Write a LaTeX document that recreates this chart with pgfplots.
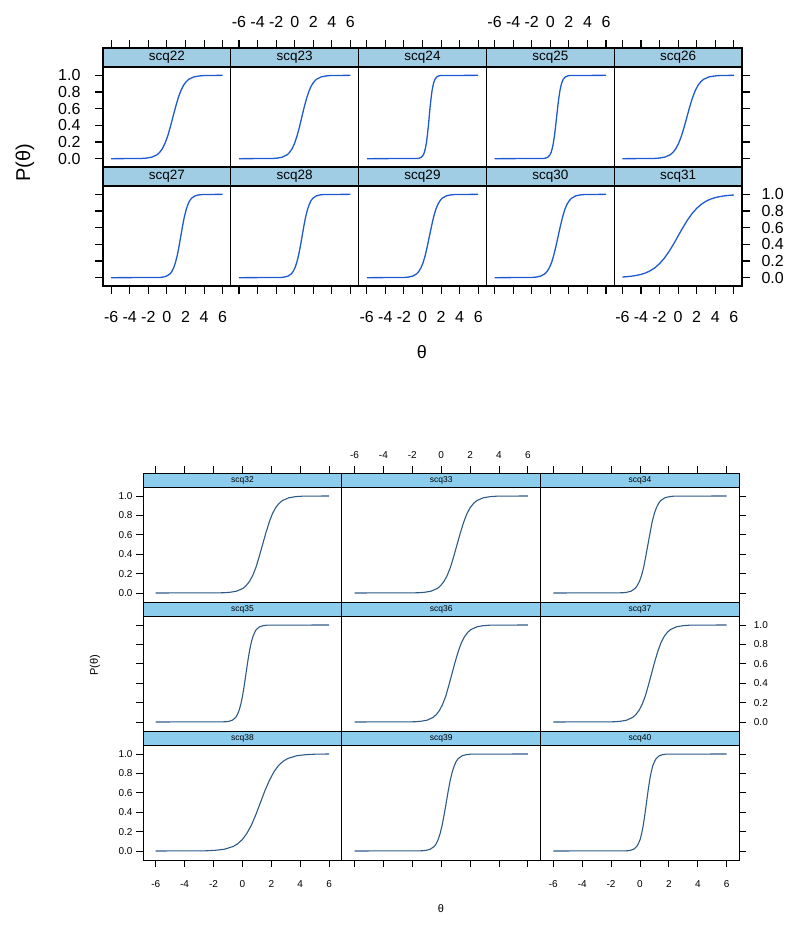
\documentclass[border=0pt]{standalone}
\usepackage{pgfplots}
\pgfplotsset{compat=1.18}
\usepackage{fontspec}
\setmainfont{Liberation Sans}
\definecolor{topstrip}{RGB}{160,205,228}
\definecolor{botstrip}{RGB}{140,205,238}
\definecolor{topcurve}{RGB}{30,90,210}
\definecolor{botcurve}{RGB}{45,90,135}
\pgfplotsset{
  baseP/.style={scale only axis, anchor=north west, xmin=-6.88, xmax=6.88,
    axis on top, tick align=outside,
    xtick={-6,-4,-2,0,2,4,6}, ytick={0,0.2,0.4,0.6,0.8,1},
    xticklabels={-6,-4,-2,0,2,4,6}, yticklabels={0.0,0.2,0.4,0.6,0.8,1.0}},
  topP/.style={baseP, width=127.8pt, height=119pt, ymin=-0.1, ymax=1.328,
    major tick length=8pt, axis line style={line width=1.1pt},
    tick style={line width=1.1pt, black},
    tick label style={font=\fontsize{16}{18}\selectfont}},
  botP/.style={baseP, width=198.8pt, height=129pt, ymin=-0.093, ymax=1.237,
    major tick length=7pt, axis line style={line width=0.8pt},
    tick style={line width=0.8pt, black},
    tick label style={font=\fontsize{10}{12}\selectfont}},
  topL/.style={color=topcurve, line width=1.3pt, no markers, line join=round},
  botL/.style={color=botcurve, line width=1.1pt, no markers, line join=round},
  TU/.style={xtick pos=right, xticklabel pos=right, xticklabel style={yshift=9pt}},
  TD/.style={xtick pos=left, xticklabel pos=left, xticklabel style={yshift=-14pt}},
  TL/.style={ytick pos=left, yticklabel pos=left, yticklabel style={xshift=-11pt}},
  TR/.style={ytick pos=right, yticklabel pos=right, yticklabel style={xshift=8pt}},
  BU/.style={xtick pos=right, xticklabel pos=right, xticklabel style={yshift=4pt}},
  BD/.style={xtick pos=left, xticklabel pos=left, xticklabel style={yshift=-10pt}},
  BL/.style={ytick pos=left, yticklabel pos=left},
  BR/.style={ytick pos=right, yticklabel pos=right, yticklabel style={xshift=4pt}},
}
\newcommand{\tpanel}[5]{%
\begin{axis}[topP, at={(#1pt,-#2pt)}, #3]
\addplot[topL] coordinates {#5};
\fill[topstrip] (rel axis cs:0,0.8403) rectangle (rel axis cs:1,1);
\draw[line width=1.1pt] (rel axis cs:0,0.8403) -- (rel axis cs:1,0.8403);
\node[font=\fontsize{13.5}{15}\selectfont] at (rel axis cs:0.5,0.9202) {#4};
\end{axis}}
\newcommand{\bpanel}[5]{%
\begin{axis}[botP, at={(#1pt,-#2pt)}, #3]
\addplot[botL] coordinates {#5};
\fill[botstrip] (rel axis cs:0,0.8915) rectangle (rel axis cs:1,1);
\draw[line width=0.8pt] (rel axis cs:0,0.8915) -- (rel axis cs:1,0.8915);
\node[font=\fontsize{8.5}{10}\selectfont] at (rel axis cs:0.5,0.9457) {#4};
\end{axis}}
\begin{document}
\begin{tikzpicture}
\useasboundingbox (0,0) rectangle (800pt,-930pt);
% ---------------- top figure ----------------
\tpanel{103}{48}{TU, xticklabels={}, TL}{scq22}
{(-6,0)(-2.78,0.002)(-2.21,0.007)(-1.64,0.018)(-1.06,0.047)(-0.78,0.076)(-0.49,0.119)(-0.21,0.182)(0.08,0.269)(0.36,0.378)(0.65,0.5)(0.94,0.622)(1.22,0.731)(1.51,0.818)(1.79,0.881)(2.08,0.924)(2.36,0.953)(2.93,0.982)(3.51,0.993)(4.08,0.998)(6,1)}
\tpanel{230.8}{48}{TU, ytick=\empty}{scq23}
{(-6,0)(-2.39,0.002)(-1.86,0.007)(-1.33,0.018)(-0.81,0.047)(-0.55,0.076)(-0.28,0.119)(-0.02,0.182)(0.24,0.269)(0.51,0.378)(0.77,0.5)(1.03,0.622)(1.30,0.731)(1.56,0.818)(1.82,0.881)(2.09,0.924)(2.35,0.953)(2.87,0.982)(3.40,0.993)(3.93,0.998)(6,1)}
\tpanel{358.6}{48}{TU, xticklabels={}, ytick=\empty}{scq24}
{(-6,0)(-0.53,0.002)(-0.32,0.007)(-0.11,0.018)(0.10,0.047)(0.20,0.076)(0.30,0.119)(0.41,0.182)(0.51,0.269)(0.62,0.378)(0.72,0.5)(0.82,0.622)(0.93,0.731)(1.03,0.818)(1.14,0.881)(1.24,0.924)(1.34,0.953)(1.55,0.982)(1.76,0.993)(1.97,0.998)(6,1)}
\tpanel{486.4}{48}{TU, ytick=\empty}{scq25}
{(-6,0)(-0.75,0.002)(-0.51,0.007)(-0.27,0.018)(-0.03,0.047)(0.09,0.076)(0.20,0.119)(0.32,0.182)(0.44,0.269)(0.56,0.378)(0.68,0.5)(0.80,0.622)(0.92,0.731)(1.04,0.818)(1.16,0.881)(1.28,0.924)(1.39,0.953)(1.63,0.982)(1.87,0.993)(2.11,0.998)(6,1)}
\tpanel{614.2}{48}{TU, xticklabels={}, TR, yticklabels={}}{scq26}
{(-6,0)(-2.64,0.002)(-2.05,0.007)(-1.45,0.018)(-0.85,0.047)(-0.55,0.076)(-0.25,0.119)(0.05,0.182)(0.35,0.269)(0.65,0.378)(0.95,0.5)(1.25,0.622)(1.55,0.731)(1.85,0.818)(2.15,0.881)(2.45,0.924)(2.75,0.953)(3.35,0.982)(3.95,0.993)(4.54,0.998)(6,1)}
\tpanel{103}{167}{TD, TL, yticklabels={}}{scq27}
{(-6,0)(-0.81,0.002)(-0.42,0.007)(-0.04,0.018)(0.35,0.047)(0.54,0.076)(0.73,0.119)(0.92,0.182)(1.12,0.269)(1.31,0.378)(1.50,0.5)(1.69,0.622)(1.88,0.731)(2.08,0.818)(2.27,0.881)(2.46,0.924)(2.65,0.953)(3.04,0.982)(3.42,0.993)(3.81,0.998)(6,1)}
\tpanel{230.8}{167}{TD, xticklabels={}, ytick=\empty}{scq28}
{(-6,0)(-1.51,0.002)(-1.12,0.007)(-0.74,0.018)(-0.35,0.047)(-0.16,0.076)(0.03,0.119)(0.22,0.182)(0.42,0.269)(0.61,0.378)(0.80,0.5)(0.99,0.622)(1.18,0.731)(1.38,0.818)(1.57,0.881)(1.76,0.924)(1.95,0.953)(2.34,0.982)(2.72,0.993)(3.11,0.998)(6,1)}
\tpanel{358.6}{167}{TD, ytick=\empty}{scq29}
{(-6,0)(-1.98,0.002)(-1.52,0.007)(-1.07,0.018)(-0.61,0.047)(-0.39,0.076)(-0.16,0.119)(0.07,0.182)(0.30,0.269)(0.52,0.378)(0.75,0.5)(0.98,0.622)(1.20,0.731)(1.43,0.818)(1.66,0.881)(1.89,0.924)(2.11,0.953)(2.57,0.982)(3.02,0.993)(3.48,0.998)(6,1)}
\tpanel{486.4}{167}{TD, xticklabels={}, ytick=\empty}{scq30}
{(-6,0)(-2.01,0.002)(-1.53,0.007)(-1.05,0.018)(-0.58,0.047)(-0.34,0.076)(-0.10,0.119)(0.14,0.182)(0.37,0.269)(0.61,0.378)(0.85,0.5)(1.09,0.622)(1.33,0.731)(1.56,0.818)(1.80,0.881)(2.04,0.924)(2.28,0.953)(2.75,0.982)(3.23,0.993)(3.71,0.998)(6,1)}
\tpanel{614.2}{167}{TD, TR}{scq31}
{(-6,0.008)(-5.5,0.012)(-5,0.018)(-4.5,0.027)(-4,0.039)(-3.5,0.057)(-3,0.083)(-2.5,0.119)(-2,0.168)(-1.5,0.231)(-1,0.310)(-0.5,0.401)(0,0.5)(0.5,0.599)(1,0.690)(1.5,0.769)(2,0.832)(2.5,0.881)(3,0.917)(3.5,0.943)(4,0.961)(4.5,0.973)(5,0.982)(5.5,0.988)(6,0.992)}
\node[rotate=90, font=\fontsize{20}{24}\selectfont] at (25pt,-163pt) {P(θ)};
\node[font=\fontsize{18}{20}\selectfont] at (422pt,-352pt) {θ};
% ---------------- bottom figure ----------------
\bpanel{143}{473}{BU, xticklabels={}, BL}{scq32}
{(-6,0)(-1.33,0.002)(-0.87,0.007)(-0.42,0.018)(0.04,0.047)(0.26,0.076)(0.49,0.119)(0.72,0.182)(0.95,0.269)(1.17,0.378)(1.40,0.5)(1.63,0.622)(1.86,0.731)(2.08,0.818)(2.31,0.881)(2.54,0.924)(2.77,0.953)(3.22,0.982)(3.68,0.993)(4.13,0.998)(6,1)}
\bpanel{341.8}{473}{BU, ytick=\empty}{scq33}
{(-6,0)(-1.63,0.002)(-1.17,0.007)(-0.72,0.018)(-0.26,0.047)(-0.04,0.076)(0.19,0.119)(0.42,0.182)(0.65,0.269)(0.87,0.378)(1.10,0.5)(1.33,0.622)(1.56,0.731)(1.78,0.818)(2.01,0.881)(2.24,0.924)(2.47,0.953)(2.92,0.982)(3.38,0.993)(3.83,0.998)(6,1)}
\bpanel{540.6}{473}{BU, xticklabels={}, BR, yticklabels={}}{scq34}
{(-6,0)(-1.21,0.002)(-0.92,0.007)(-0.63,0.018)(-0.33,0.047)(-0.19,0.076)(-0.04,0.119)(0.11,0.182)(0.26,0.269)(0.40,0.378)(0.55,0.5)(0.70,0.622)(0.84,0.731)(0.99,0.818)(1.14,0.881)(1.29,0.924)(1.43,0.953)(1.73,0.982)(2.02,0.993)(2.31,0.998)(6,1)}
\bpanel{143}{602}{xtick=\empty, BL, yticklabels={}}{scq35}
{(-6,0)(-1.18,0.002)(-0.94,0.007)(-0.70,0.018)(-0.46,0.047)(-0.35,0.076)(-0.23,0.119)(-0.11,0.182)(0.01,0.269)(0.13,0.378)(0.25,0.5)(0.37,0.622)(0.49,0.731)(0.61,0.818)(0.73,0.881)(0.85,0.924)(0.96,0.953)(1.20,0.982)(1.44,0.993)(1.68,0.998)(6,1)}
\bpanel{341.8}{602}{xtick=\empty, ytick=\empty}{scq36}
{(-6,0)(-1.86,0.002)(-1.43,0.007)(-0.99,0.018)(-0.56,0.047)(-0.34,0.076)(-0.12,0.119)(0.10,0.182)(0.32,0.269)(0.53,0.378)(0.75,0.5)(0.97,0.622)(1.19,0.731)(1.40,0.818)(1.62,0.881)(1.84,0.924)(2.06,0.953)(2.49,0.982)(2.93,0.993)(3.36,0.998)(6,1)}
\bpanel{540.6}{602}{xtick=\empty, BR}{scq37}
{(-6,0)(-1.81,0.002)(-1.38,0.007)(-0.94,0.018)(-0.51,0.047)(-0.29,0.076)(-0.07,0.119)(0.15,0.182)(0.37,0.269)(0.58,0.378)(0.80,0.5)(1.02,0.622)(1.24,0.731)(1.45,0.818)(1.67,0.881)(1.89,0.924)(2.11,0.953)(2.54,0.982)(2.98,0.993)(3.41,0.998)(6,1)}
\bpanel{143}{731}{BD, BL}{scq38}
{(-6,0)(-2.50,0.002)(-1.88,0.007)(-1.25,0.018)(-0.63,0.047)(-0.31,0.076)(0.00,0.119)(0.31,0.182)(0.63,0.269)(0.94,0.378)(1.25,0.5)(1.56,0.622)(1.88,0.731)(2.19,0.818)(2.50,0.881)(2.81,0.924)(3.13,0.953)(3.75,0.982)(4.38,0.993)(5.00,0.998)(6,1)}
\bpanel{341.8}{731}{BD, xticklabels={}, ytick=\empty}{scq39}
{(-6,0)(-1.32,0.002)(-1.04,0.007)(-0.76,0.018)(-0.48,0.047)(-0.34,0.076)(-0.21,0.119)(-0.07,0.182)(0.07,0.269)(0.21,0.378)(0.35,0.5)(0.49,0.622)(0.63,0.731)(0.77,0.818)(0.91,0.881)(1.04,0.924)(1.18,0.953)(1.46,0.982)(1.74,0.993)(2.02,0.998)(6,1)}
\bpanel{540.6}{731}{BD, BR, yticklabels={}}{scq40}
{(-6,0)(-0.88,0.002)(-0.66,0.007)(-0.44,0.018)(-0.22,0.047)(-0.11,0.076)(0.01,0.119)(0.12,0.182)(0.23,0.269)(0.34,0.378)(0.45,0.5)(0.56,0.622)(0.67,0.731)(0.78,0.818)(0.89,0.881)(1.01,0.924)(1.12,0.953)(1.34,0.982)(1.56,0.993)(1.78,0.998)(6,1)}
\node[rotate=90, font=\fontsize{11}{13}\selectfont] at (95pt,-665pt) {P(θ)};
\node[font=\fontsize{11}{13}\selectfont] at (441pt,-909pt) {θ};
\end{tikzpicture}
\end{document}
